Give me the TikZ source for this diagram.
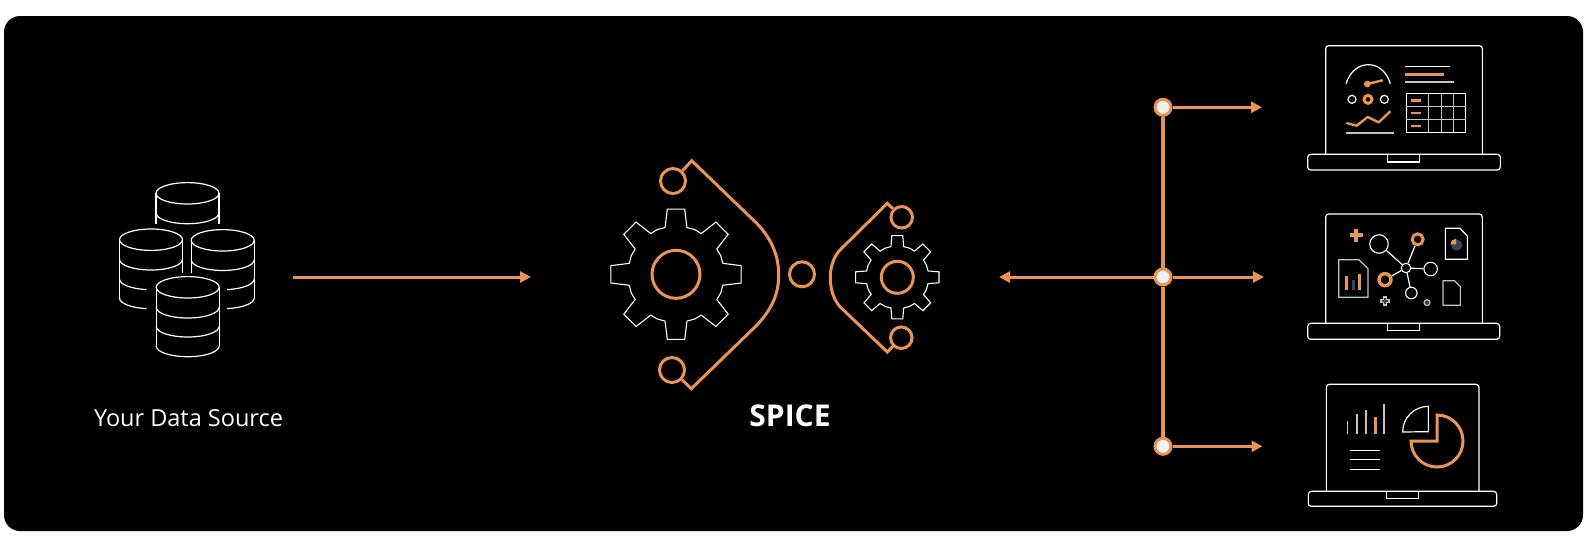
\documentclass[tikz,border=0pt]{standalone}
\usepackage{fontspec}
\setmainfont{Open Sans}
\usetikzlibrary{arrows.meta}
\definecolor{org}{HTML}{E99453}
\definecolor{nav}{HTML}{3A4356}
\definecolor{gry}{HTML}{C4C4C4}
\tikzset{
  wline/.style={draw=white,line width=1.2pt},
  thinw/.style={draw=white,line width=1.1pt},
  oline/.style={draw=org,line width=3pt},
  osmall/.style={draw=org,line width=2.4pt},
  flow/.style={draw=org,line width=3pt,-{Triangle[length=11pt,width=11pt]}},
  hub/.style={circle,draw=org,line width=3pt,fill=white!95!black,minimum size=16pt,inner sep=0pt},
  ring/.style={circle,draw=org,line width=3pt,minimum size=25pt,inner sep=0pt},
  lab/.style={text=white,inner sep=0pt,anchor=base},
  zoomed/.style={x=0.33333pt,y=-0.33333pt},
}
% gear: #1 centre, #2 outer r, #3 root r, #4 tip half angle, #5 base half angle
\newcommand{\gearshape}[5]{%
  \draw[thinw,line join=miter,shift={#1}]
   \foreach \a in {0,45,...,315}{
    (\a-#5:#3)
    -- (\a-#4:#2) -- (\a+#4:#2) -- (\a+#5:#3)
    -- (\a+22.5:#3*1.01) -- (\a+45-#5:#3)
   };
}
\begin{document}
\begin{tikzpicture}[x=1pt,y=-1pt]
\useasboundingbox (0,0) rectangle (1587,552);
\fill[white] (0,0) rectangle (1587,552);
\fill[black,rounded corners=16pt] (4,16) rectangle (1583,531);

% ---------- database ----------
\begin{scope}[wline]
% back
\draw (156,193.3) arc[start angle=180,end angle=0,x radius=31.5,y radius=10.7]
      arc[start angle=0,end angle=-180,x radius=31.5,y radius=10.7] -- cycle;
\draw (156,193.3) -- (156,224);
\draw (219,193.3) -- (219,224);
\draw (156,213) arc[start angle=180,end angle=0,x radius=31.5,y radius=10.7];
% left
\draw (151,239.7) ellipse[x radius=31.5,y radius=10.7];
\draw (119.5,239.7) -- (119.5,298);
\draw (182.5,239.7) -- (182.5,272.5);
\draw (119.5,259.3) arc[start angle=180,end angle=0,x radius=31.5,y radius=10.7];
\draw (119.5,279) arc[start angle=180,end angle=98,x radius=31.5,y radius=10.7];
\draw (119.5,298) arc[start angle=180,end angle=98,x radius=31.5,y radius=10.7];
% right
\draw (222.7,240.3) ellipse[x radius=31.5,y radius=10.7];
\draw (254.2,240.3) -- (254.2,298);
\draw (191.2,240.3) -- (191.2,272.5);
\draw (191.2,259.8) arc[start angle=180,end angle=0,x radius=31.5,y radius=10.7];
\draw (254.2,279) arc[start angle=0,end angle=82,x radius=31.5,y radius=10.7];
\draw (254.2,298) arc[start angle=0,end angle=82,x radius=31.5,y radius=10.7];
% front
\draw (187.7,287.3) ellipse[x radius=31.5,y radius=10.7];
\draw (156.2,287.3) -- (156.2,346);
\draw (219.2,287.3) -- (219.2,346);
\foreach \yy in {307.3,326.3,346}
  \draw (156.2,\yy) arc[start angle=180,end angle=0,x radius=31.5,y radius=10.7];
\end{scope}
\coordinate (dbout) at (293,277);
\node[lab,font=\fontsize{23.5}{26}\selectfont] (srclabel) at (188.5,426) {Your Data Source};
\coordinate (spicein) at (531,277);
\draw[flow] (dbout) -- (spicein);

% ---------- SPICE ----------
\gearshape{(676,274.3)}{65.7}{48}{7.6}{13.2}
\node[circle,draw=org,line width=3pt,minimum size=48pt,inner sep=0pt] (gearA) at (676,274.3) {};
\gearshape{(897.3,277.3)}{42}{31.3}{7.5}{11.7}
\node[circle,draw=org,line width=3pt,minimum size=32pt,inner sep=0pt] (gearB) at (897.3,277.3) {};

\node[ring] (r1) at (673,181) {};
\node[ring] (r2) at (672,370) {};
\node[ring] (r3) at (802,274.3) {};
\node[ring,minimum size=21.5pt] (r4) at (901.7,217.3) {};
\node[ring,minimum size=21.5pt] (r5) at (901.3,337.7) {};
\draw[oline,line join=miter] (r1) -- (691.7,160.7) -- (756.7,223.3)
   .. controls (771,238) and (778.7,255) .. (778.7,275)
   .. controls (778.7,295) and (771,310) .. (757,325) -- (691.3,388.7) -- (r2);
\draw[oline,line join=miter] (r4) -- (887.3,203.3) -- (840,250)
   .. controls (835,255) and (830.3,265) .. (830.3,277.3)
   .. controls (830.3,290) and (834,300) .. (840,306.7) -- (887.3,352) -- (r5);
\node[lab,font=\bfseries\fontsize{30}{34}\selectfont] (spice) at (790,426.7) {SPICE};

% ---------- bus ----------
\node[hub] (h1) at (1163,107.3) {};
\node[hub] (h2) at (1163,277) {};
\node[hub] (h3) at (1163,446.3) {};
\coordinate (t1) at (1262,107.3);
\coordinate (t2) at (1264,277);
\coordinate (t3) at (1262.5,446.3);
\coordinate (t4) at (999,277);
\draw[org,line width=4pt] (h1) -- (h2);
\draw[org,line width=4pt] (h2) -- (h3);
\draw[flow] (h1) -- (t1);
\draw[flow] (h2) -- (t2);
\draw[flow] (h3) -- (t3);
\draw[flow] (h2) -- (t4);

% ---------- laptop 1 ----------
\begin{scope}[shift={(1290,35)},zoomed]
\draw[wline,rounded corners=3pt] (107,358) -- (107,32) -- (577,32) -- (577,358);
\draw[wline,rounded corners=3pt] (53,358) -- (631,358) -- (631,405) -- (53,405) -- cycle;
\draw[wline] (293,358) -- (293,381) -- (388,381) -- (388,358);
\draw[wline] (168,146) .. controls (180,110) and (205,89) .. (235,89) .. controls (265,89) and (290,110) .. (301,146);
\draw[osmall,line cap=round] (225,149) -- (277,136);
\fill[org] (232,147) circle[radius=10];
\draw[wline] (186,193) circle[radius=12];
\draw[oline] (234,193) circle[radius=12];
\draw[wline] (283,193) circle[radius=12];
\draw[osmall,line join=round] (169,264) -- (200,272) -- (233,246) -- (266,262) -- (301,229);
\draw[draw=gry,line width=1.1pt] (169,294) -- (311,294);
\draw[wline] (345,94) -- (479,94);
\draw[oline] (345,118) -- (462,118);
\draw[draw=gry,line width=1.3pt] (345,141) -- (491,141);
\draw[wline] (349,176) rectangle (527,292);
\foreach \xx in {416,454,491} \draw[draw=gry,line width=1.1pt] (\xx,176) -- (\xx,292);
\foreach \yy in {214,254} \draw[draw=gry,line width=1.1pt] (349,\yy) -- (527,\yy);
\foreach \yy in {196,234,273} \draw[osmall] (363,\yy) -- (393,\yy);
\end{scope}

% ---------- laptop 2 ----------
\begin{scope}[shift={(1290,205)},zoomed]
\draw[wline,rounded corners=3pt] (107,355) -- (107,27) -- (577,27) -- (577,355);
\draw[wline,rounded corners=3pt] (53,355) -- (629,355) -- (629,403) -- (53,403) -- cycle;
\draw[wline] (293,355) -- (293,377) -- (388,377) -- (388,355);
\fill[org] (193,72) rectangle (205,110);
\fill[org] (180,85) rectangle (218,97);
% network
\node[circle,draw=white,line width=1.1pt,minimum size=9.5pt,inner sep=0pt] (n0) at (348,189) {};
\node[circle,draw=white,line width=1.1pt,minimum size=18.5pt,inner sep=0pt] (n1) at (267,117) {};
\node[circle,draw=org,line width=3pt,minimum size=11pt,inner sep=0pt] (n2) at (383,103) {};
\node[circle,draw=white,line width=1.1pt,minimum size=13.5pt,inner sep=0pt] (n3) at (422,192) {};
\node[circle,draw=org,line width=3.4pt,minimum size=12pt,inner sep=0pt] (n4) at (285,224) {};
\node[circle,draw=white,line width=1.1pt,minimum size=11.5pt,inner sep=0pt] (n5) at (364,264) {};
\foreach \n in {n1,n2,n3,n4,n5} \draw[wline] (n0) -- (\n);
% plus, dot
\fill[gry] (279,274) rectangle (291,302);
\fill[gry] (271,282) rectangle (299,294);
\fill[nav] (283,279) rectangle (287,297);
\fill[nav] (276,286) rectangle (294,290);
\draw[draw=gry,line width=1.1pt,fill=nav] (411,293) circle[radius=9];
% documents
\draw[wline,line join=round] (466,70) -- (510,70) -- (532,93) -- (532,163) -- (466,163) -- cycle;
\fill[nav] (500,120) circle[radius=17];
\fill[org] (498,118) -- (481,118) arc[start angle=180,end angle=270,radius=17] -- cycle;
\draw[draw=gry,line width=1.2pt,line join=round] (146,164) -- (207,164) -- (234,191) -- (234,277) -- (146,277) -- cycle;
\draw[osmall] (170,213) -- (170,256);
\draw[osmall] (208,206) -- (208,256);
\draw[draw=nav,line width=2.4pt] (190,226) -- (190,256);
\draw[draw=gry,line width=1.2pt,line join=round] (459,227) -- (493,227) -- (511,245) -- (511,301) -- (459,301) -- cycle;
\end{scope}

% ---------- laptop 3 ----------
\begin{scope}[shift={(1290,375)},zoomed]
\draw[wline,rounded corners=3pt] (109,349) -- (109,28) -- (567,28) -- (567,349);
\draw[wline,rounded corners=3pt] (55,349) -- (620,349) -- (620,394) -- (55,394) -- cycle;
\draw[wline] (290,349) -- (290,371) -- (385,371) -- (385,349);
\foreach \xx/\yy in {173/138,201/118,228/105,282/88} \draw[draw=gry,line width=1.1pt] (\xx,178) -- (\xx,\yy);
\draw[oline] (255,178) -- (255,126);
\foreach \yy in {226,254,284} \draw[wline] (180,\yy) -- (270,\yy);
\draw[wline,line join=miter] (415,170) -- (415,94) arc[start angle=-90,end angle=-180,radius=77] -- cycle;
\draw[oline,line join=miter] (441,198) -- (441,120) arc[start angle=-90,end angle=180,radius=78] -- cycle;
\end{scope}
\end{tikzpicture}
\end{document}
